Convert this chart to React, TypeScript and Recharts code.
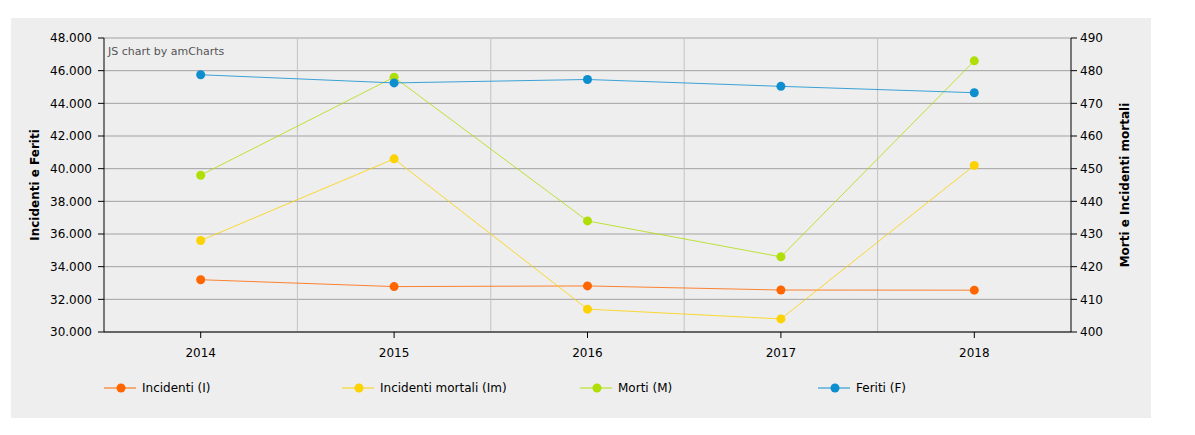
import { CartesianGrid, Line, LineChart, ReferenceLine, XAxis, YAxis } from "recharts";

const years = [2014, 2015, 2016, 2017, 2018];
const incidenti = [33200, 32780, 32820, 32570, 32560];
const incidentiMortali = [428, 453, 407, 404, 451];
const morti = [448, 478, 434, 423, 483];
const feriti = [45750, 45250, 45460, 45040, 44650];

const leftTicks = [30000, 32000, 34000, 36000, 38000, 40000, 42000, 44000, 46000, 48000];
const rightTicks = [400, 410, 420, 430, 440, 450, 460, 470, 480, 490];

const series = [
  { key: "incidenti", name: "Incidenti (I)", color: "#FF6600", axis: "left" },
  { key: "incidentiMortali", name: "Incidenti mortali (Im)", color: "#FCD202", axis: "right" },
  { key: "morti", name: "Morti (M)", color: "#B0DE09", axis: "right" },
  { key: "feriti", name: "Feriti (F)", color: "#0D8ECF", axis: "left" },
];

const data = years.map((year, i) => ({
  year,
  incidenti: incidenti[i],
  incidentiMortali: incidentiMortali[i],
  morti: morti[i],
  feriti: feriti[i],
}));

// category separators sit halfway between the years
const separators = years.slice(1).map((y) => y - 0.5);

const FONT = "'DejaVu Sans', Verdana, sans-serif";
const tickStyle = { fill: "#000", fontSize: 12, fontFamily: FONT };

function fmt(v: number) {
  return String(v).replace(/\B(?=(\d{3})+(?!\d))/g, ".");
}

function AxisTitle({ viewBox, value, dx }: { viewBox?: any; value: string; dx: number }) {
  if (!viewBox) return null;
  const x = viewBox.x + dx;
  const y = viewBox.y + viewBox.height / 2;
  return (
    <text x={x} y={y} transform={`rotate(-90 ${x} ${y})`} textAnchor="middle" dominantBaseline="central" fontFamily={FONT} fontSize={12} fontWeight="bold" fill="#000">
      {value}
    </text>
  );
}

function LegendRow() {
  return (
    <div style={{ position: "absolute", left: 104, top: 380, display: "flex", fontFamily: FONT, fontSize: 12, color: "#000" }}>
      {series.map((s) => (
        <div key={s.key} style={{ width: 238, display: "flex", alignItems: "center", height: 16 }}>
          <svg width={32} height={10} style={{ display: "block" }}>
            <line x1={0} x2={32} y1={5} y2={5} stroke={s.color} strokeWidth={1} />
            <circle cx={17} cy={5} r={4.5} fill={s.color} />
          </svg>
          <span style={{ marginLeft: 6 }}>{s.name}</span>
        </div>
      ))}
    </div>
  );
}

export default function App() {
  return (
    <div style={{ position: "absolute", left: 0, top: 0, width: 1195, height: 435, background: "#fff" }}>
      <div style={{ position: "absolute", left: 11, top: 18, width: 1140, height: 400, background: "#eeeeee" }} />
      <div style={{ position: "absolute", left: 0, top: 0 }}>
        <LineChart width={1195} height={435} data={data} margin={{ top: 38, right: 0, bottom: 63, left: 0 }}>
          <CartesianGrid yAxisId="left" vertical={false} stroke="#a2a2a2" />
          {separators.map((x) => (
            <ReferenceLine key={x} x={x} yAxisId="left" stroke="#c2c2c2" />
          ))}
          <XAxis
            dataKey="year"
            type="number"
            domain={[years[0] - 0.5, years[years.length - 1] + 0.5]}
            ticks={years}
            tickFormatter={(v) => String(v)}
            height={40}
            tick={tickStyle}
            tickSize={6}
            tickMargin={10}
            stroke="#000"
            tickLine={{ stroke: "#000" }}
          />
          <YAxis
            yAxisId="left"
            orientation="left"
            width={104}
            domain={[leftTicks[0], leftTicks[leftTicks.length - 1]]}
            ticks={leftTicks}
            tickFormatter={fmt}
            tick={tickStyle}
            tickSize={6}
            tickMargin={6}
            stroke="#000"
            label={{ content: (p: any) => <AxisTitle viewBox={p.viewBox} value="Incidenti e Feriti" dx={35} /> }}
          />
          <YAxis
            yAxisId="right"
            orientation="right"
            width={124}
            domain={[rightTicks[0], rightTicks[rightTicks.length - 1]]}
            ticks={rightTicks}
            tick={tickStyle}
            tickSize={6}
            tickMargin={3}
            stroke="#000"
            label={{ content: (p: any) => <AxisTitle viewBox={p.viewBox} value="Morti e Incidenti mortali" dx={54} /> }}
          />
          {series.map((s) => (
            <Line
              key={s.key}
              yAxisId={s.axis}
              dataKey={s.key}
              name={s.name}
              type="linear"
              stroke={s.color}
              strokeOpacity={0.8}
              strokeWidth={1}
              dot={{ r: 4.5, fill: s.color, stroke: "none" }}
              activeDot={false}
              isAnimationActive={false}
            />
          ))}
          <text x={108} y={55} fontFamily={FONT} fontSize={11} fill="#555">
            JS chart by amCharts
          </text>
        </LineChart>
      </div>
      <LegendRow />
    </div>
  );
}
